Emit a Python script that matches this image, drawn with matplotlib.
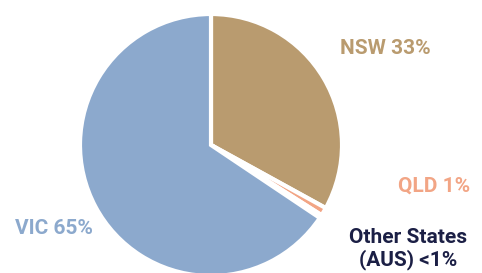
import matplotlib.pyplot as plt

states = ['NSW', 'QLD', 'Other States (AUS)', 'VIC']
shares = [33, 1, 0.4, 65.6]
labels = ['NSW 33%', 'QLD 1%', 'Other States\n(AUS) <1%', 'VIC 65%']
colors = ['#B99B6F', '#F2A585', '#1B1F45', '#8CA9CD']

plt.rcParams['font.family'] = ['Roboto', 'DejaVu Sans']

fig = plt.figure(figsize=(4.82, 2.73), dpi=100)
ax = fig.add_axes([0, 0, 1, 1])
ax.pie(shares, colors=colors, startangle=90, counterclock=False,
       center=(211, 128), radius=131,
       wedgeprops=dict(edgecolor='white', linewidth=3))
ax.set_xlim(0, 482)
ax.set_ylim(0, 273)
ax.set_aspect('equal')
ax.axis('off')

# label positions in pixel coords
pos = [(385, 225), (434, 87), (408, 24), (54, 44)]
for lab, c, (x, y) in zip(labels, colors, pos):
    ax.text(x, y, lab, color=c, fontsize=15, fontweight='bold',
            ha='center', va='center', linespacing=1.2)

fig.savefig('out.png', dpi=100)
